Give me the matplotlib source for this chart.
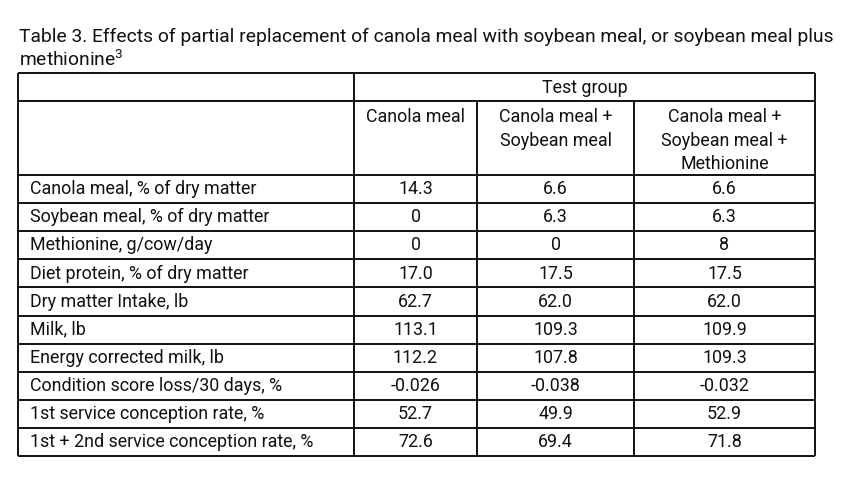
import matplotlib
matplotlib.use("Agg")
import matplotlib.pyplot as plt

title_lines = ["Table 3. Effects of partial replacement of canola meal with soybean meal, or soybean meal plus",
               "methionine$^3$"]
group_header = "Test group"
col_headers = ["Canola meal", "Canola meal +\nSoybean meal", "Canola meal +\nSoybean meal +\nMethionine"]
row_labels = [
    "Canola meal, % of dry matter",
    "Soybean meal, % of dry matter",
    "Methionine, g/cow/day",
    "Diet protein, % of dry matter",
    "Dry matter Intake, lb",
    "Milk, lb",
    "Energy corrected milk, lb",
    "Condition score loss/30 days, %",
    "1st service conception rate, %",
    "1st + 2nd service conception rate, %",
]
canola = ["14.3", "0", "0", "17.0", "62.7", "113.1", "112.2", "-0.026", "52.7", "72.6"]
canola_soy = ["6.6", "6.3", "0", "17.5", "62.0", "109.3", "107.8", "-0.038", "49.9", "69.4"]
canola_soy_met = ["6.6", "6.3", "8", "17.5", "62.0", "109.9", "109.3", "-0.032", "52.9", "71.8"]
columns = [canola, canola_soy, canola_soy_met]

plt.rcParams['font.family'] = ["Roboto", "DejaVu Sans"]
plt.rcParams['mathtext.fontset'] = 'custom'
plt.rcParams['mathtext.rm'] = 'Roboto'

W, H = 864, 504
fig = plt.figure(figsize=(W / 100, H / 100), dpi=100)
ax = fig.add_axes([0, 0, 1, 1])
ax.set_xlim(0, W)
ax.set_ylim(H, 0)
ax.axis("off")
renderer = fig.canvas.get_renderer()


def fit_size(text, target_px, base=12):
    t = fig.text(0, 0, text, fontsize=base)
    w = t.get_window_extent(renderer).width
    t.remove()
    return base * target_px / w

fs = fit_size(row_labels[0], 227)
fs_title = fit_size(title_lines[0], 814)

# layout
x_left, x_right = 18, 815
col_x = [354, 477, 634, 815]
y_top = 73
y_group = 101
y_head = 175
row_h = (456 - 175) / len(row_labels)
y_rows = [y_head + i * row_h for i in range(len(row_labels) + 1)]

lc = "#111111"
lw = 1.4
tc = "#111111"

# title
ax.text(19, 42, title_lines[0], fontsize=fs_title, va="baseline", ha="left", color=tc)
ax.text(19, 66.5, title_lines[1], fontsize=fs_title, va="baseline", ha="left", color=tc)

# lines
ax.hlines([y_top, y_group, y_head] + y_rows[1:], x_left, x_right, colors=lc, lw=lw)
ax.vlines([x_left, x_right, col_x[0]], y_top, y_rows[-1], colors=lc, lw=lw)
ax.vlines(col_x[1:3], y_group, y_rows[-1], colors=lc, lw=lw)

# group header
ax.text((col_x[0] + col_x[3]) / 2, 92.7, group_header, fontsize=fs,
        ha="center", va="baseline", color=tc)

# column headers
centers = [(col_x[i] + col_x[i + 1]) / 2 for i in range(3)]
for cx, h in zip(centers, col_headers):
    for j, line in enumerate(h.split("\n")):
        ax.text(cx, 121.7 + 23.8 * j, line, fontsize=fs, ha="center", va="baseline", color=tc)

# rows
for i, lab in enumerate(row_labels):
    yb = y_rows[i] + 19.3
    ax.text(30, yb, lab, fontsize=fs, ha="left", va="baseline", color=tc)
    for cx, col in zip(centers, columns):
        ax.text(cx, yb, col[i], fontsize=fs, ha="center", va="baseline", color=tc)

fig.savefig("out.png", dpi=100, facecolor="white")
